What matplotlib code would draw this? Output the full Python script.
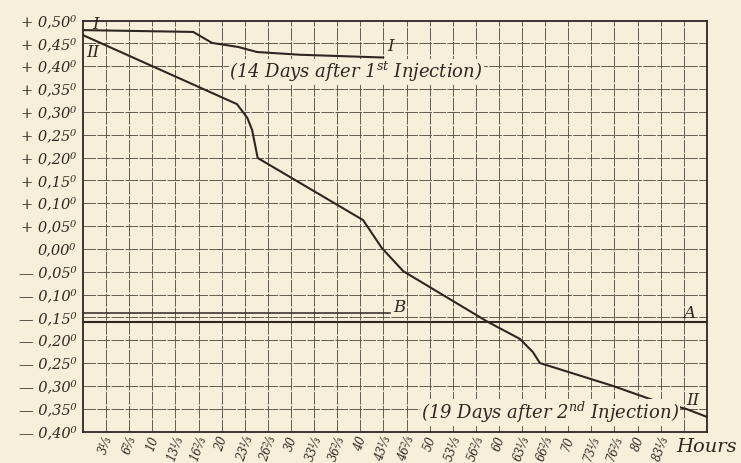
import matplotlib
matplotlib.use('Agg')
import matplotlib.pyplot as plt

# curve I: 14 days after 1st injection
hours_I = [0, 15.9, 18.6, 22.4, 25.1, 31.3, 43.3]
temp_I = [0.479, 0.475, 0.451, 0.442, 0.431, 0.425, 0.419]

# curve II: 19 days after 2nd injection
hours_II = [0, 22.2, 23.7, 24.4, 25.2, 40.4, 43.1, 46.2, 58.4, 63.0, 64.9, 65.9, 76.4, 82.2, 87.1, 90.0]
temp_II = [0.468, 0.317, 0.287, 0.260, 0.199, 0.063, 0.002, -0.049, -0.160, -0.197,
           -0.226, -0.250, -0.300, -0.331, -0.351, -0.368]

# reference lines
level_A = -0.160
hours_A = [0, 90]
level_B = -0.141
hours_B = [0, 44.3]

y_ticks = [0.50, 0.45, 0.40, 0.35, 0.30, 0.25, 0.20, 0.15, 0.10, 0.05, 0.00,
           -0.05, -0.10, -0.15, -0.20, -0.25, -0.30, -0.35, -0.40]
y_labels = ['+ 0,50⁰', '+ 0,45⁰', '+ 0,40⁰', '+ 0,35⁰', '+ 0,30⁰', '+ 0,25⁰', '+ 0,20⁰',
            '+ 0,15⁰', '+ 0,10⁰', '+ 0,05⁰', '0,00⁰', '— 0,05⁰', '— 0,10⁰', '— 0,15⁰',
            '— 0,20⁰', '— 0,25⁰', '— 0,30⁰', '— 0,35⁰', '— 0,40⁰']
x_ticks = [k * 10 / 3 for k in range(1, 26)]
x_labels = ['3⅓', '6⅔', '10', '13⅓', '16⅔', '20', '23⅓', '26⅔', '30', '33⅓', '36⅔', '40',
            '43⅓', '46⅔', '50', '53⅓', '56⅔', '60', '63⅓', '66⅔', '70', '73⅓', '76⅔', '80', '83⅓']

bg = '#f8efda'
ink = '#2e2720'
grid_c = '#5a5148'

plt.rcParams['font.family'] = ['DejaVu Serif']
plt.rcParams['mathtext.fontset'] = 'dejavuserif'

fig = plt.figure(figsize=(7.41, 4.63), dpi=100, facecolor=bg)
ax = fig.add_axes([0.112, 0.068, 0.842, 0.8877], facecolor=bg)

# grid
for k in range(1, 27):
    ax.axvline(k * 10 / 3, color=grid_c, lw=0.65, ls=(0, (14, 1.5)), zorder=1)
for k in range(1, 18):
    ax.axhline(0.50 - k * 0.05, color=grid_c, lw=0.65, ls=(0, (14, 1.5)), zorder=1)

ax.plot(hours_I, temp_I, color=ink, lw=1.5, zorder=3)
ax.plot(hours_II, temp_II, color=ink, lw=1.5, zorder=3)
ax.plot(hours_A, [level_A, level_A], color=ink, lw=1.5, zorder=3)
ax.plot(hours_B, [level_B, level_B], color=ink, lw=1.1, zorder=3)

ax.set_xlim(0, 90)
ax.set_ylim(-0.40, 0.50)
for s in ax.spines.values():
    s.set_color(ink)
    s.set_linewidth(1.3)

ax.set_yticks(y_ticks)
ax.set_yticklabels(y_labels, fontsize=10.5, style='italic', color=ink)
ax.set_xticks(x_ticks)
ax.set_xticklabels(x_labels, fontsize=8.3, style='italic', color=ink, rotation=70)
ax.tick_params(axis='y', length=0, pad=5)
ax.tick_params(axis='x', length=0, pad=2)

lab = dict(style='italic', color=ink, zorder=4)
ax.text(1.8, 0.481, 'I', fontsize=12, ha='center', va='baseline', **lab)
ax.text(1.4, 0.429, 'II', fontsize=12, ha='center', va='center', **lab)
ax.text(44.4, 0.442, 'I', fontsize=12, ha='center', va='center', **lab)
ax.text(88.0, -0.333, 'II', fontsize=12, ha='center', va='center', **lab)
ax.text(87.5, -0.141, 'A', fontsize=12, ha='center', va='center', **lab)
ax.text(45.7, -0.128, 'B', fontsize=12, ha='center', va='center', **lab)

box = dict(facecolor=bg, edgecolor='none', pad=0.5)
ax.text(39.4, 0.387, '(14 Days after 1$^{st}$ Injection)', fontsize=13,
        ha='center', va='center', bbox=box, **lab)
ax.text(67.4, -0.359, '(19 Days after 2$^{nd}$ Injection)', fontsize=13,
        ha='center', va='center', bbox=box, **lab)

fig.text(0.995, 0.035, 'Hours', fontsize=14, style='italic', color=ink, ha='right', va='center')

fig.savefig('out.png', dpi=100, facecolor=bg)
